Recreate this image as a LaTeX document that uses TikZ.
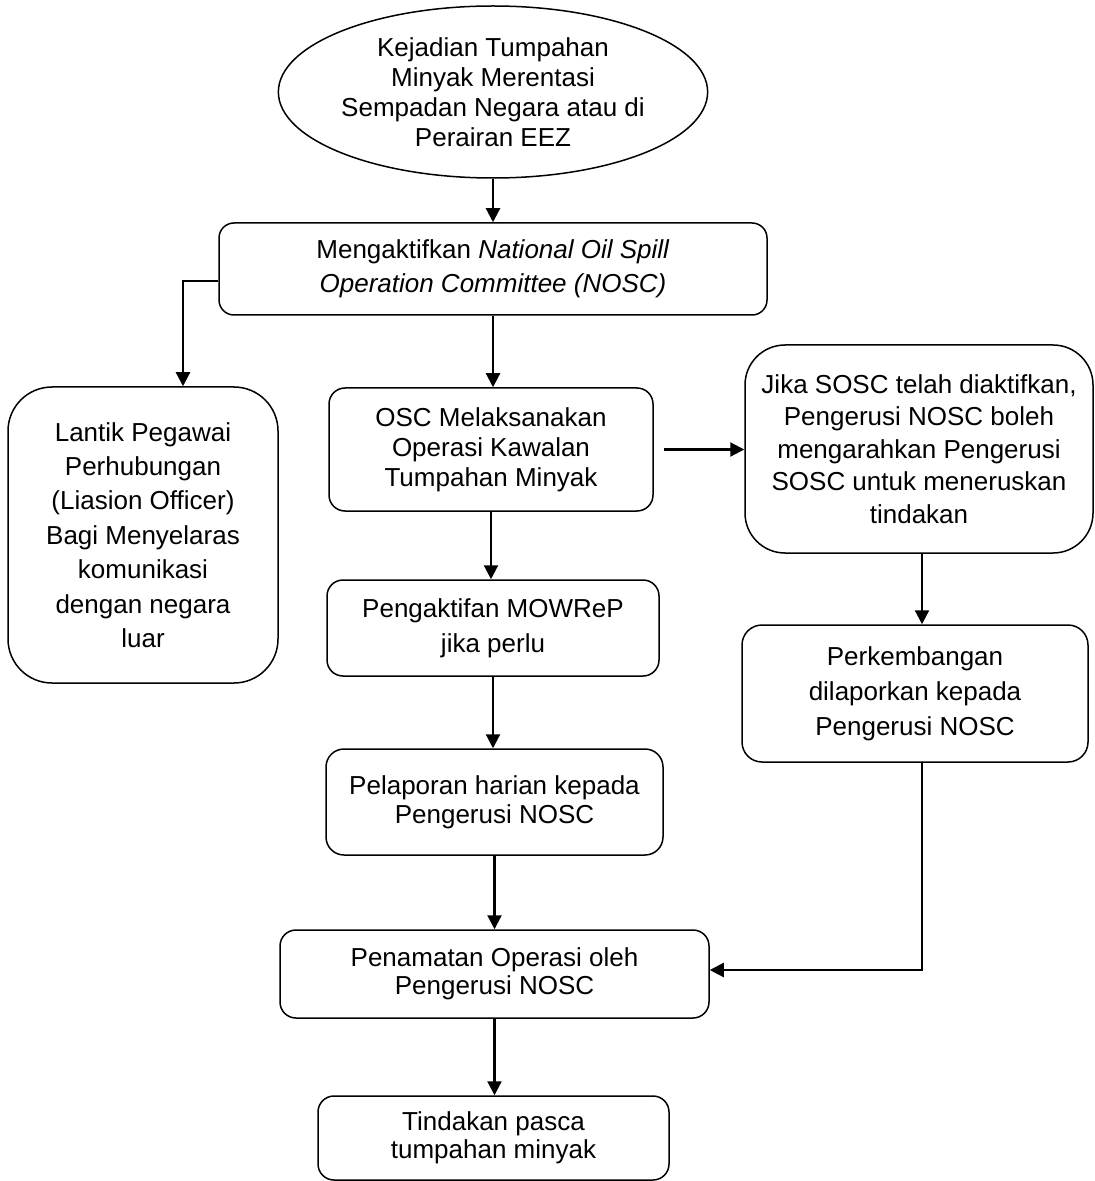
\documentclass[tikz,border=0pt]{standalone}
\usepackage{fontspec}
\setmainfont{Liberation Sans}
\usetikzlibrary{shapes.geometric,arrows.meta}
\begin{document}
\begin{tikzpicture}[x=0.5pt,y=-0.5pt,
  base/.style={draw,line width=0.75pt,align=center,inner sep=0pt,font=\fontsize{13pt}{16pt}\selectfont},
  box/.style={base,rectangle},
  ell/.style={base,ellipse},
  conn/.style={line width=1.1pt,-{Triangle[length=7pt,width=7pt]}}]
\useasboundingbox (0,0) rectangle (1094,1181);

\node[ell,minimum width=184pt,minimum height=86pt,font=\fontsize{13pt}{15pt}\selectfont] (ev) at (493,92)
  {Kejadian Tumpahan\\Minyak Merentasi\\Sempadan Negara atau di\\Perairan EEZ};
\node[box,minimum width=274pt,minimum height=46pt,rounded corners=7.5pt,font=\fontsize{13pt}{17pt}\selectfont] (nosc) at (493,269)
  {Mengaktifkan \textit{National Oil Spill}\\\textit{Operation Committee (NOSC)}};
\node[box,minimum width=135pt,minimum height=148pt,rounded corners=22pt,font=\fontsize{13pt}{17.2pt}\selectfont] (lo) at (143,535)
  {Lantik Pegawai\\Perhubungan\\(Liasion Officer)\\Bagi Menyelaras\\komunikasi\\dengan negara\\luar};
\node[box,minimum width=162pt,minimum height=61.5pt,rounded corners=8pt,font=\fontsize{13pt}{15pt}\selectfont] (osc) at (491,449.5)
  {OSC Melaksanakan\\Operasi Kawalan\\Tumpahan Minyak};
\node[box,minimum width=174pt,minimum height=104pt,rounded corners=20pt,font=\fontsize{13pt}{16.2pt}\selectfont] (jika) at (919,449)
  {Jika SOSC telah diaktifkan,\\Pengerusi NOSC boleh\\mengarahkan Pengerusi\\SOSC untuk meneruskan\\tindakan};
\node[box,minimum width=166pt,minimum height=48pt,rounded corners=8pt,font=\fontsize{13pt}{17.5pt}\selectfont] (mow) at (493,628)
  {Pengaktifan MOWReP\\jika perlu};
\node[box,minimum width=173pt,minimum height=68.5pt,rounded corners=10pt,font=\fontsize{13pt}{17.5pt}\selectfont] (perk) at (915,693.5)
  {Perkembangan\\dilaporkan kepada\\Pengerusi NOSC};
\node[box,minimum width=168.5pt,minimum height=53pt,rounded corners=9pt,font=\fontsize{13pt}{14.5pt}\selectfont] (pel) at (494.5,802)
  {Pelaporan harian kepada\\Pengerusi NOSC};
\node[box,minimum width=214.5pt,minimum height=44pt,rounded corners=8pt,font=\fontsize{13pt}{14pt}\selectfont] (pen) at (494.5,974)
  {Penamatan Operasi oleh\\Pengerusi NOSC};
\node[box,minimum width=175.5pt,minimum height=42pt,rounded corners=8pt,font=\fontsize{13pt}{14pt}\selectfont] (tin) at (493.5,1138)
  {Tindakan pasca\\tumpahan minyak};

\draw[conn] (ev.south) -- (ev.south |- nosc.north);
\draw[conn] ([yshift=-6pt]nosc.west) -| ([xshift=20pt]lo.north);
\draw[conn] (nosc.south) -- (nosc.south |- osc.north);
\draw[conn,shorten <=5pt] (osc.east) -- (osc.east -| jika.west);
\draw[conn] ([xshift=1.5pt]jika.south) -- ([xshift=1.5pt]jika.south |- perk.north);
\draw[conn] (osc.south) -- (osc.south |- mow.north);
\draw[conn] (mow.south) -- (mow.south |- pel.north);
\draw[conn] (pel.south) -- (pel.south |- pen.north);
\draw[conn] ([xshift=3.5pt]perk.south) |- ([yshift=2pt]pen.east);
\draw[conn] (pen.south) -- (pen.south |- tin.north);
\end{tikzpicture}
\end{document}
